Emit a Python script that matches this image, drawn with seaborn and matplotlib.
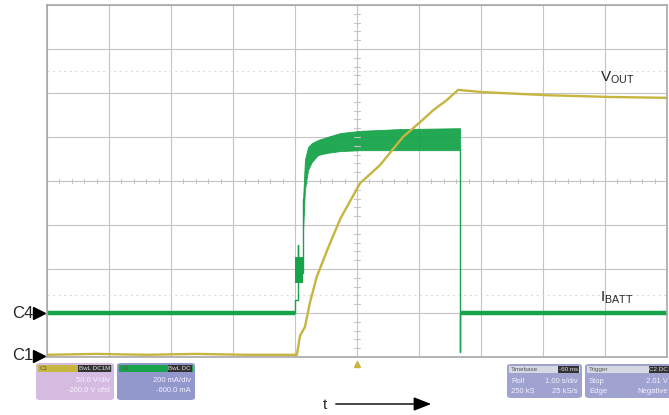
import matplotlib

matplotlib.use("Agg")

import matplotlib.pyplot as plt
import numpy as np
import pandas as pd
import seaborn as sns
from matplotlib.patches import FancyArrowPatch, FancyBboxPatch, Rectangle

W, H = 669, 415
AX_LEFT, AX_TOP, AX_RIGHT, AX_BOTTOM = 47, 5, 667, 357

# scope traces, in screen divisions (10 x 8)
VOUT_T = [0.0, 0.8, 1.6, 2.4, 3.2, 4.03, 4.08, 4.16, 4.24, 4.35, 4.52, 4.73, 5.05,
          5.37, 5.74, 6.02, 6.23, 6.45, 6.63, 7.03, 8.06, 9.08, 10.0]
VOUT_V = [0.05, 0.07, 0.05, 0.07, 0.05, 0.05, 0.48, 0.68, 1.23, 1.82, 2.43, 3.14, 3.95,
          4.36, 5.00, 5.34, 5.61, 5.84, 6.07, 6.02, 5.95, 5.91, 5.89]

IBATT_T = [0.0, 4.00, 4.00, 4.05, 4.05, 4.05, 4.13, 4.13, np.nan,
           6.66, 6.66, 6.66, 10.0]
IBATT_V = [1.0, 1.0, 1.30, 1.30, 2.55, 1.90, 1.90, 3.60, np.nan,
           4.70, 0.11, 1.0, 1.0]

BURST_T = [4.00, 4.13]
BURST_LO = [1.68, 1.68]
BURST_HI = [2.27, 2.27]

BAND_T = [4.13, 4.16, 4.21, 4.27, 4.37, 4.52, 4.73, 5.05, 5.69, 6.66]
BAND_HI = [3.57, 4.48, 4.77, 4.86, 4.93, 5.00, 5.09, 5.14, 5.18, 5.20]
BAND_LO = [2.89, 3.80, 4.25, 4.43, 4.59, 4.64, 4.68, 4.70, 4.70, 4.70]

C4_LEVEL = 1.0
C1_LEVEL = 0.05

YELLOW = "#c6b53f"
GREEN = "#17a34a"
GRID = "#c4c4c4"


def fx(px):
    return px / W


def fy(py):
    return 1 - py / H


def info_box(fig, x0, x1, y0, y1, face, head, head_label, lines, tag=""):
    fig.patches.append(FancyBboxPatch(
        (fx(x0), fy(y1)), fx(x1) - fx(x0), fy(y0) - fy(y1),
        boxstyle="round,pad=0,rounding_size=0.006", transform=fig.transFigure,
        facecolor=face, edgecolor="none", alpha=0.85))
    fig.patches.append(Rectangle(
        (fx(x0 + 2), fy(y0 + 9)), fx(x1 - x0 - 4), fy(y0 + 2) - fy(y0 + 9),
        transform=fig.transFigure, facecolor=head, edgecolor="none"))
    fig.text(fx(x0 + 4), fy(y0 + 5.5), tag, fontsize=4.5, color="#555555", va="center")
    fig.text(fx(x1 - 4), fy(y0 + 5.5), head_label, fontsize=4.5, color="#dddddd",
             va="center", ha="right", bbox=dict(boxstyle="square,pad=0.1", fc="#333333", ec="none"))
    for i, (left, right) in enumerate(lines):
        yy = fy(y0 + 17 + i * 10)
        fig.text(fx(x0 + 4), yy, left, fontsize=5.5, color="#f4f0ff", va="center")
        fig.text(fx(x1 - 4), yy, right, fontsize=5.5, color="#f4f0ff", va="center", ha="right")


def main() -> None:
    sns.set_theme(style="white")
    plt.rcParams["font.family"] = ["Liberation Sans", "DejaVu Sans"]

    fig = plt.figure(figsize=(W / 100, H / 100), dpi=100)
    ax = fig.add_axes([fx(AX_LEFT), fy(AX_BOTTOM), fx(AX_RIGHT - AX_LEFT),
                       fy(AX_TOP) - fy(AX_BOTTOM)])

    # graticule
    ax.set_xlim(0, 10)
    ax.set_ylim(0, 8)
    ax.set_xticks(range(11))
    ax.set_yticks(range(9))
    ax.grid(True, color=GRID, linewidth=0.8)
    ax.tick_params(length=0, labelbottom=False, labelleft=False)
    for sp in ax.spines.values():
        sp.set_color("#a8a8a8")
        sp.set_linewidth(1.2)
    minor = np.arange(0, 10.01, 0.2)
    ax.plot(np.repeat(minor, 3), np.tile([3.95, 4.05, np.nan], len(minor)),
            color=GRID, lw=0.8)
    minor_y = np.arange(0, 8.01, 0.2)
    ax.plot(np.tile([4.95, 5.05, np.nan], len(minor_y)), np.repeat(minor_y, 3),
            color=GRID, lw=0.8)
    for lvl in (6.5, 1.41):
        ax.axhline(lvl, color="#dcdcdc", lw=0.8, ls=(0, (2, 3)))

    # traces
    vout = pd.DataFrame({"t": VOUT_T, "v": VOUT_V})
    sns.lineplot(data=vout, x="t", y="v", color=YELLOW, lw=1.7, sort=False, ax=ax)

    ax.fill_between(BURST_T, BURST_LO, BURST_HI, color=GREEN, lw=0)
    ax.fill_between(BAND_T, BAND_LO, BAND_HI, color=GREEN, lw=0.6, alpha=0.95)
    ibatt = pd.DataFrame({"t": IBATT_T, "v": IBATT_V})
    ax.plot(ibatt["t"], ibatt["v"], color=GREEN, lw=1.0)
    ax.plot([0, 4.0], [C4_LEVEL, C4_LEVEL], color=GREEN, lw=3.2, solid_capstyle="butt")
    ax.plot([6.66, 10], [C4_LEVEL, C4_LEVEL], color=GREEN, lw=3.2, solid_capstyle="butt")
    ax.set_xlabel("")
    ax.set_ylabel("")

    # channel markers
    for name, lvl in (("C4", C4_LEVEL), ("C1", C1_LEVEL - 0.02)):
        ax.plot([-0.13], [lvl], marker=">", ms=8, color="black", clip_on=False)
        ax.text(-0.22, lvl, name, ha="right", va="center", fontsize=12, clip_on=False)
    ax.plot([5.0], [-0.16], marker="^", ms=4, color=YELLOW, clip_on=False)

    ax.text(8.92, 6.36, r"V$_{\mathregular{OUT}}$", fontsize=11, va="center")
    ax.text(8.92, 1.36, r"I$_{\mathregular{BATT}}$", fontsize=11, va="center")

    # time arrow
    fig.text(fx(325), fy(405), "t", fontsize=11, ha="center", va="center")
    fig.add_artist(FancyArrowPatch(
        (fx(333), fy(404)), (fx(434), fy(404)), transform=fig.transFigure,
        arrowstyle="-|>,head_length=0.9,head_width=0.35", mutation_scale=12,
        color="black", lw=1.0))

    # scope readout boxes
    info_box(fig, 36, 114, 363, 400, "#cfb0dc", YELLOW, "BwL DC1M",
             [("", "50.0 V/div"), ("", "-200.0 V ofst")], tag="C1")
    info_box(fig, 117, 195, 363, 400, "#7f86c4", GREEN, "BwL DC",
             [("", "200 mA/div"), ("", "-600.0 mA")], tag="C4")
    info_box(fig, 507, 582, 364, 398, "#8f93c8", "#d8d8e4", "-60 ms",
             [("Roll", "1.00 s/div"), ("250 kS", "25 kS/s")], tag="Timebase")
    info_box(fig, 585, 672, 364, 398, "#8f93c8", "#d8d8e4", "C2 DC",
             [("Stop", "2.01 V"), ("Edge", "Negative")], tag="Trigger")

    fig.savefig("out.png", dpi=100, facecolor="white")
    plt.close(fig)


if __name__ == "__main__":
    main()
